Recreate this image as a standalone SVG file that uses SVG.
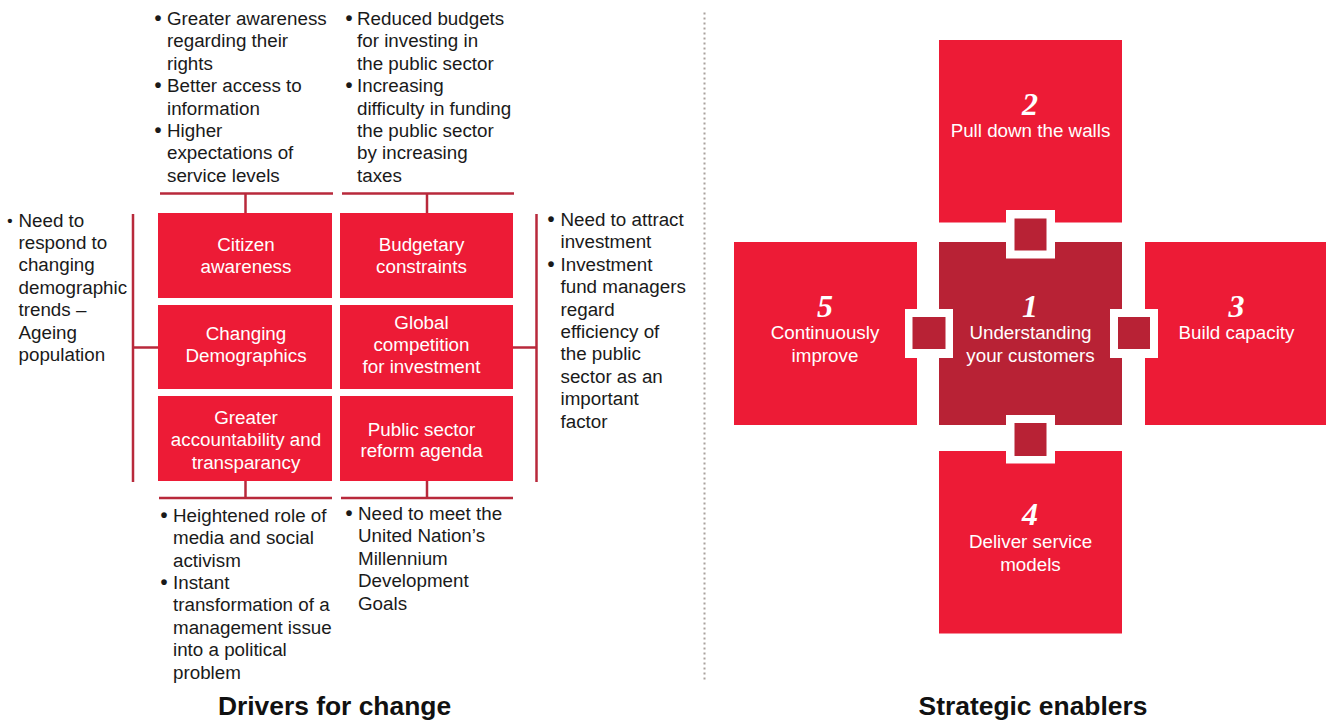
<svg xmlns="http://www.w3.org/2000/svg" width="1326" height="720" viewBox="0 0 1326 720">
<style>
.t{font-family:"Liberation Sans",Arial,sans-serif;font-size:18.8px;fill:#1a1a1a}
.w{font-family:"Liberation Sans",Arial,sans-serif;font-size:18.8px;fill:#ffffff;text-anchor:middle}
.n{font-family:"Liberation Serif","Times New Roman",serif;font-size:32px;font-weight:bold;font-style:italic;fill:#ffffff;text-anchor:middle}
.h{font-family:"Liberation Sans",Arial,sans-serif;font-size:26.4px;font-weight:bold;fill:#111111;text-anchor:middle}
.b{font-family:"Liberation Sans",Arial,sans-serif;font-size:20px;font-weight:bold;fill:#1a1a1a;text-anchor:middle}
.r{fill:#ED1B36}
.d{fill:#B82235}
.ln{stroke:#B8293B;stroke-width:2.5;fill:none}
.fr{fill:#ffffff}
</style>
<rect width="1326" height="720" fill="#ffffff"/>

<!-- divider -->
<line x1="704.5" y1="12.5" x2="704.5" y2="680" stroke="#a9a19d" stroke-width="2" stroke-dasharray="2 3"/>

<!-- connectors -->
<g id="connectors">
  <line class="ln" x1="160" y1="193.5" x2="333" y2="193.5"/>
  <line class="ln" x1="342" y1="193.5" x2="514" y2="193.5"/>
  <line class="ln" x1="245.5" y1="193.5" x2="245.5" y2="213"/>
  <line class="ln" x1="427" y1="193.5" x2="427" y2="213"/>
  <line class="ln" x1="133" y1="214" x2="133" y2="482"/>
  <line class="ln" x1="133" y1="347.5" x2="158" y2="347.5"/>
  <line class="ln" x1="536.5" y1="214" x2="536.5" y2="482"/>
  <line class="ln" x1="513" y1="347.5" x2="536.5" y2="347.5"/>
  <line class="ln" x1="245.5" y1="481" x2="245.5" y2="498"/>
  <line class="ln" x1="427" y1="481" x2="427" y2="498"/>
  <line class="ln" x1="159" y1="498" x2="332" y2="498"/>
  <line class="ln" x1="341" y1="498" x2="513" y2="498"/>
</g>

<!-- drivers -->
<g id="citizen-awareness">
  <rect class="r" x="158" y="213" width="174" height="85"/>
  <text class="w"><tspan x="246" y="250.5">Citizen</tspan><tspan x="246" y="273">awareness</tspan></text>
</g>
<g id="budgetary-constraints">
  <rect class="r" x="340" y="213" width="173" height="85"/>
  <text class="w"><tspan x="421.5" y="250.5">Budgetary</tspan><tspan x="421.5" y="273">constraints</tspan></text>
</g>
<g id="changing-demographics">
  <rect class="r" x="158" y="305" width="174" height="84"/>
  <text class="w"><tspan x="246" y="340">Changing</tspan><tspan x="246" y="362">Demographics</tspan></text>
</g>
<g id="global-competition">
  <rect class="r" x="340" y="305" width="173" height="84"/>
  <text class="w"><tspan x="421.5" y="328.5">Global</tspan><tspan x="421.5" y="351">competition</tspan><tspan x="421.5" y="373">for investment</tspan></text>
</g>
<g id="greater-accountability">
  <rect class="r" x="158" y="396" width="174" height="85"/>
  <text class="w"><tspan x="246" y="423.5">Greater</tspan><tspan x="246" y="446">accountability and</tspan><tspan x="246" y="468.5">transparancy</tspan></text>
</g>
<g id="public-sector-reform">
  <rect class="r" x="340" y="396" width="173" height="85"/>
  <text class="w"><tspan x="421.5" y="435.5">Public sector</tspan><tspan x="421.5" y="457">reform agenda</tspan></text>
</g>

<!-- bullet lists -->
<g id="list-citizen">
  <text class="b" x="158" y="25">•</text>
  <text class="b" x="158" y="92.2">•</text>
  <text class="b" x="158" y="137">•</text>
  <text class="t"><tspan x="167" y="25">Greater awareness</tspan><tspan x="167" y="47.4">regarding their</tspan><tspan x="167" y="69.8">rights</tspan><tspan x="167" y="92.2">Better access to</tspan><tspan x="167" y="114.6">information</tspan><tspan x="167" y="137">Higher</tspan><tspan x="167" y="159.4">expectations of</tspan><tspan x="167" y="181.8">service levels</tspan></text>
</g>
<g id="list-budget">
  <text class="b" x="349" y="25">•</text>
  <text class="b" x="349" y="92.2">•</text>
  <text class="t"><tspan x="357" y="25">Reduced budgets</tspan><tspan x="357" y="47.4">for investing in</tspan><tspan x="357" y="69.8">the public sector</tspan><tspan x="357" y="92.2">Increasing</tspan><tspan x="357" y="114.6">difficulty in funding</tspan><tspan x="357" y="137">the public sector</tspan><tspan x="357" y="159.4">by increasing</tspan><tspan x="357" y="181.8">taxes</tspan></text>
</g>
<g id="list-demographics">
  <text class="b" x="10" y="226" style="font-size:15px">•</text>
  <text class="t"><tspan x="18.5" y="226.5">Need to</tspan><tspan x="18.5" y="248.9">respond to</tspan><tspan x="18.5" y="271.3">changing</tspan><tspan x="18.5" y="293.7">demographic</tspan><tspan x="18.5" y="316.1">trends –</tspan><tspan x="18.5" y="338.5">Ageing</tspan><tspan x="18.5" y="360.9">population</tspan></text>
</g>
<g id="list-investment">
  <text class="b" x="551" y="226">•</text>
  <text class="b" x="551" y="270.8">•</text>
  <text class="t"><tspan x="560.5" y="226">Need to attract</tspan><tspan x="560.5" y="248.4">investment</tspan><tspan x="560.5" y="270.8">Investment</tspan><tspan x="560.5" y="293.2">fund managers</tspan><tspan x="560.5" y="315.6">regard</tspan><tspan x="560.5" y="338">efficiency of</tspan><tspan x="560.5" y="360.4">the public</tspan><tspan x="560.5" y="382.8">sector as an</tspan><tspan x="560.5" y="405.2">important</tspan><tspan x="560.5" y="427.6">factor</tspan></text>
</g>
<g id="list-accountability">
  <text class="b" x="164" y="521.7">•</text>
  <text class="b" x="164" y="589">•</text>
  <text class="t"><tspan x="173" y="521.7">Heightened role of</tspan><tspan x="173" y="544.1">media and social</tspan><tspan x="173" y="566.5">activism</tspan><tspan x="173" y="588.9">Instant</tspan><tspan x="173" y="611.3">transformation of a</tspan><tspan x="173" y="633.7">management issue</tspan><tspan x="173" y="656.1">into a political</tspan><tspan x="173" y="678.5">problem</tspan></text>
</g>
<g id="list-reform">
  <text class="b" x="349" y="520">•</text>
  <text class="t"><tspan x="358" y="520">Need to meet the</tspan><tspan x="358" y="542.4">United Nation’s</tspan><tspan x="358" y="564.8">Millennium</tspan><tspan x="358" y="587.2">Development</tspan><tspan x="358" y="609.6">Goals</tspan></text>
</g>

<text class="h" x="334.5" y="715">Drivers for change</text>

<!-- strategic enablers -->
<g id="enabler-2">
  <rect class="r" x="939" y="40" width="183" height="182.5"/>
  <text class="n" x="1030" y="114.5">2</text>
  <text class="w" x="1030.5" y="137">Pull down the walls</text>
</g>
<g id="enabler-5">
  <rect class="r" x="734" y="242" width="183" height="183"/>
  <text class="n" x="825" y="316.7">5</text>
  <text class="w"><tspan x="825" y="339.3">Continuously</tspan><tspan x="825" y="361.7">improve</tspan></text>
</g>
<g id="enabler-1">
  <rect class="d" x="939" y="242" width="183" height="183"/>
  <text class="n" x="1030" y="316.7">1</text>
  <text class="w"><tspan x="1030.5" y="339.3">Understanding</tspan><tspan x="1030.5" y="361.7">your customers</tspan></text>
</g>
<g id="enabler-3">
  <rect class="r" x="1145" y="242" width="181" height="183"/>
  <text class="n" x="1236.5" y="316.7">3</text>
  <text class="w" x="1236.5" y="339.3">Build capacity</text>
</g>
<g id="enabler-4">
  <rect class="r" x="939" y="451" width="183" height="182.5"/>
  <text class="n" x="1030" y="525">4</text>
  <text class="w"><tspan x="1030.5" y="548">Deliver service</tspan><tspan x="1030.5" y="570.5">models</tspan></text>
</g>
<g id="enabler-links">
  <rect class="fr" x="1006" y="210" width="49" height="48.5"/>
  <rect class="d" x="1014.5" y="218.5" width="32" height="32"/>
  <rect class="fr" x="1006" y="415" width="49" height="48.5"/>
  <rect class="d" x="1014.5" y="423" width="32" height="33"/>
  <rect class="fr" x="905" y="309" width="48" height="49"/>
  <rect class="d" x="912.5" y="317" width="33" height="32"/>
  <rect class="fr" x="1110" y="309" width="48" height="49"/>
  <rect class="d" x="1118" y="317" width="32" height="32"/>
</g>

<text class="h" x="1033" y="715">Strategic enablers</text>
</svg>
